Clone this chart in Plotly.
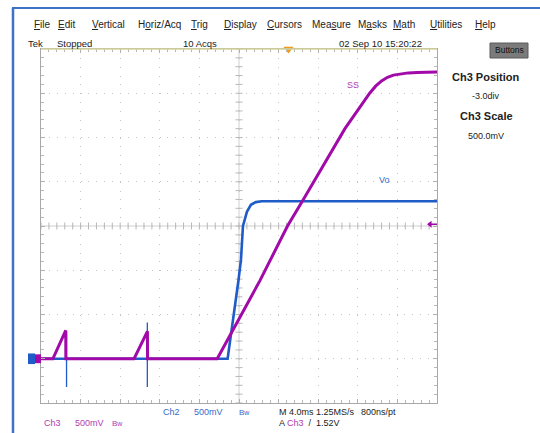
import numpy as np
import plotly.graph_objects as go

# Scope settings: 4 ms/div over 10 div, 500 mV/div over 8 div, position -3 div
T_PER_DIV = 4.0
V_PER_DIV = 0.5
POSITION_DIV = -3.0
TRIGGER_POS_MS = 5.0
TRIGGER_LEVEL_V = 1.52

# Ch3 (SS, soft-start) waveform, volts vs ms
ss_t = [-20.0, -18.8, -17.5, -17.49, -10.6, -9.25, -9.24, -2.2, 2.1, 4.9, 6.5,
        10.7, 13.2, 13.8, 14.4, 15.0, 15.6, 16.3, 17.1, 18.0, 20.0]
ss_v = [0.0, 0.0, 0.32, 0.0, 0.0, 0.31, 0.0, 0.0, 0.88, 1.50, 1.80,
        2.60, 3.00, 3.08, 3.14, 3.18, 3.205, 3.22, 3.23, 3.235, 3.24]

# Ch2 (Vo, output) waveform
vo_t = [-20.0, -1.15, -0.05, 0.2, 0.4, 0.8, 1.2, 1.7, 2.3, 20.0]
vo_v = [0.0, 0.0, 0.89, 1.12, 1.50, 1.66, 1.74, 1.77, 1.78, 1.78]

# Short glitches on Ch2 at each aborted start attempt
spike_t = [-17.42, -9.26]
spike_hi = [0.30, 0.41]
spike_lo = [-0.32, -0.32]

MAGENTA = "#a10aa8"
BLUE = "#1f5cc8"
TXT_MAG = "#b03cb0"
TXT_BLUE = "#3a6ac8"

W, H = 540, 433
ML, MR, MT, MB = 41, 103, 49, 30
PW, PH = W - ML - MR, H - MT - MB

x_rng = [-5 * T_PER_DIV, 5 * T_PER_DIV]
y_rng = [(-4 - POSITION_DIV) * V_PER_DIV, (4 - POSITION_DIV) * V_PER_DIV]
y_mid = -POSITION_DIV * V_PER_DIV


def px(x):
    return (x - ML) / PW


def py(y):
    return (H - MB - y) / PH


fig = go.Figure()

# centre cross-hair with minor ticks
fig.add_trace(go.Scatter(x=[0, 0], y=y_rng, mode="lines",
                         line=dict(color="#d0d0d0", width=1), hoverinfo="skip"))
fig.add_trace(go.Scatter(x=x_rng, y=[y_mid, y_mid], mode="lines",
                         line=dict(color="#d0d0d0", width=1), hoverinfo="skip"))
vt = np.arange(y_rng[0], y_rng[1] + 1e-9, V_PER_DIV / 5)
fig.add_trace(go.Scatter(x=np.zeros_like(vt), y=vt, mode="markers",
                         marker=dict(symbol="line-ew", size=5,
                                     line=dict(color="#b8b8b8", width=1)),
                         hoverinfo="skip"))
ht = np.arange(x_rng[0], x_rng[1] + 1e-9, T_PER_DIV / 5)
fig.add_trace(go.Scatter(x=ht, y=np.full_like(ht, y_mid), mode="markers",
                         marker=dict(symbol="line-ns", size=5,
                                     line=dict(color="#b8b8b8", width=1)),
                         hoverinfo="skip"))

# Ch2 trace
fig.add_trace(go.Scatter(x=vo_t, y=vo_v, mode="lines",
                         line=dict(color=BLUE, width=2.6), hoverinfo="skip"))
sx, sy = [], []
for t, hi, lo in zip(spike_t, spike_hi, spike_lo):
    sx += [t, t, t, None]
    sy += [hi, lo, 0.0, None]
fig.add_trace(go.Scatter(x=sx, y=sy, mode="lines",
                         line=dict(color=BLUE, width=1.3), hoverinfo="skip"))

# Ch3 trace on top
fig.add_trace(go.Scatter(x=ss_t, y=ss_v, mode="lines",
                         line=dict(color=MAGENTA, width=3), hoverinfo="skip"))

# trigger level marker at the right edge
fig.add_trace(go.Scatter(x=[x_rng[1] - 0.9, x_rng[1] + 0.3],
                         y=[TRIGGER_LEVEL_V, TRIGGER_LEVEL_V], mode="lines",
                         line=dict(color=MAGENTA, width=1.5), hoverinfo="skip",
                         cliponaxis=False))
fig.add_trace(go.Scatter(x=[x_rng[1] - 0.7], y=[TRIGGER_LEVEL_V], mode="markers",
                         marker=dict(symbol="triangle-left", size=6, color=MAGENTA),
                         hoverinfo="skip", cliponaxis=False))

# trigger position marker on the top edge
fig.add_trace(go.Scatter(x=[TRIGGER_POS_MS], y=[y_rng[1]], mode="markers",
                         marker=dict(symbol="triangle-down", size=9, color="#f39a1e"),
                         hoverinfo="skip", cliponaxis=False))

shapes = [
    # window frame (blue)
    dict(type="line", xref="paper", yref="paper", x0=px(13), x1=px(13),
         y0=py(8), y1=py(H + 2), line=dict(color="#3d72c8", width=2.5)),
    dict(type="line", xref="paper", yref="paper", x0=px(12), x1=px(W + 2),
         y0=py(8), y1=py(8), line=dict(color="#3d72c8", width=2)),
    # yellowish top ruler of the graticule
    dict(type="line", xref="paper", yref="paper", x0=0, x1=1, y0=1, y1=1,
         line=dict(color="#d4d49a", width=1.5)),
    # ground markers at the left
    dict(type="rect", xref="paper", yref="y", x0=px(28), x1=px(35),
         y0=-0.06, y1=0.06, fillcolor=BLUE, line=dict(width=0)),
    dict(type="rect", xref="paper", yref="y", x0=px(35), x1=px(41),
         y0=-0.05, y1=0.05, fillcolor=MAGENTA, line=dict(width=0)),
    # Buttons pill
    dict(type="rect", xref="paper", yref="paper", x0=px(490), x1=px(528),
         y0=py(58), y1=py(43), fillcolor="#7b7b7b",
         line=dict(color="#5a5a5a", width=1)),
]

FONT = "Liberation Sans, Arial, sans-serif"
ann = []


def note(x, y, text, size=10, color="#222", xanchor="left", bold=False):
    ann.append(dict(x=px(x), y=py(y), xref="paper", yref="paper", text=text,
                    showarrow=False, xanchor=xanchor, yanchor="middle",
                    font=dict(family=FONT, size=size, color=color,
                              weight="bold" if bold else "normal")))


menu = [("<u>F</u>ile", 32), ("<u>E</u>dit", 56), ("<u>V</u>ertical", 90),
        ("H<u>o</u>riz/Acq", 136), ("<u>T</u>rig", 189), ("<u>D</u>isplay", 222),
        ("<u>C</u>ursors", 265), ("Mea<u>s</u>ure", 310), ("M<u>a</u>sks", 356),
        ("<u>M</u>ath", 391), ("<u>U</u>tilities", 428), ("<u>H</u>elp", 473)]
for label, x in menu:
    note(x, 24, label, size=10)

note(26, 44, "Tek", size=9.5)
note(55, 44, "Stopped", size=9.5)
note(181, 44, "10 Acqs", size=9.5)
note(337, 44, "02 Sep 10 15:20:22", size=9.5)
note(509, 50.5, "Buttons", size=8.5, color="#111", xanchor="center")

note(486, 77, "Ch3 Position", size=11, xanchor="center", bold=True)
note(486, 96, "-3.0div", size=9, xanchor="center")
note(486, 116, "Ch3 Scale", size=11, xanchor="center", bold=True)
note(486, 136, "500.0mV", size=9, xanchor="center")

note(345, 85, "SS", size=9, color=TXT_MAG)
note(377, 180, "Vo", size=9, color=TXT_BLUE)

note(161, 412, "Ch2", size=9, color=TXT_BLUE)
note(192, 412, "500mV", size=9, color=TXT_BLUE)
note(237, 412, "B<span style='font-size:7px'>w</span>", size=8, color=TXT_BLUE)
note(277, 412, "M 4.0ms 1.25MS/s", size=9)
note(359, 412, "800ns/pt", size=9)
note(42, 423, "Ch3", size=9, color=TXT_MAG)
note(73, 423, "500mV", size=9, color=TXT_MAG)
note(110, 423, "B<span style='font-size:7px'>w</span>", size=8, color=TXT_MAG)
note(277, 423, "A <span style='color:%s'>Ch3</span>  /  1.52V" % TXT_MAG, size=9)

axis_common = dict(showticklabels=False, zeroline=False, showline=True,
                   mirror="ticks", linecolor="#a8a8a8", linewidth=1,
                   ticks="inside", ticklen=4, tickcolor="#b0b0b0",
                   gridcolor="#c4c4c4", gridwidth=1, fixedrange=True)

fig.update_layout(
    width=W, height=H, autosize=False,
    margin=dict(l=ML, r=MR, t=MT, b=MB, pad=0),
    paper_bgcolor="white", plot_bgcolor="white",
    showlegend=False,
    xaxis=dict(range=x_rng, dtick=T_PER_DIV, tick0=0,
               minor=dict(dtick=T_PER_DIV / 5, ticks="inside", ticklen=3,
                          tickcolor="#b8b8b8", showgrid=False),
               griddash="1px,7.85px", **axis_common),
    yaxis=dict(range=y_rng, dtick=V_PER_DIV, tick0=0,
               minor=dict(dtick=V_PER_DIV / 5, ticks="inside", ticklen=3,
                          tickcolor="#b8b8b8", showgrid=False),
               griddash="1px,6.9px", **axis_common),
    shapes=shapes,
    annotations=ann,
)

fig.write_html("out.html")
